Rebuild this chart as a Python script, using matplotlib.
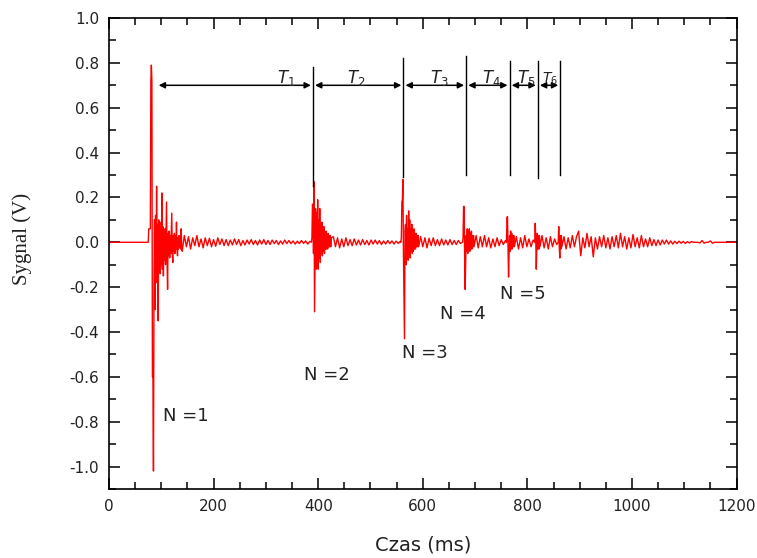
import numpy as np
import matplotlib
matplotlib.use("Agg")
import matplotlib.pyplot as plt
from matplotlib.ticker import MultipleLocator

burst_dt = 1.0
tail_dt = 4.0
burst_starts = [75, 387, 558, 676, 760, 814, 859]

burst_1 = [0.00, 0.06, 0.06, 0.06, 0.06, 0.72, 0.79, 0.72, -0.60, -0.60,
           -1.02, -0.20, 0.10, -0.30, 0.12, -0.18, 0.25, -0.15, 0.08, -0.35,
           0.10, -0.12, 0.09, -0.14, 0.06, -0.10, 0.22, -0.12, 0.07, -0.15,
           0.05, -0.08, 0.06, -0.10, 0.04, 0.18, -0.08, -0.21, 0.04, -0.06,
           0.05, -0.07, 0.03, -0.05, 0.04, 0.13, -0.05, -0.09, 0.03, -0.04,
           0.04, -0.05, 0.03, -0.03, 0.09, -0.03, -0.06, 0.02, -0.03, 0.03,
           -0.02, 0.02, -0.03, 0.06, -0.02, -0.04]
burst_2 = [0.00, 0.02, 0.17, 0.17, -0.05, 0.27, -0.31, -0.10, 0.15, -0.12,
           0.13, -0.08, 0.19, -0.12, 0.10, -0.07, 0.15, -0.09, 0.08, -0.05,
           0.09, -0.06, 0.06, -0.04, 0.07, -0.05, 0.04, -0.03, 0.05, -0.03,
           0.03, -0.03, 0.04, -0.02, 0.03, -0.02, 0.03, -0.02, 0.02]
burst_3 = [0.00, 0.02, 0.18, 0.19, 0.28, -0.05, -0.25, -0.43, 0.05, 0.08,
           -0.10, 0.12, -0.06, 0.06, -0.08, 0.14, -0.05, 0.10, -0.07, 0.06,
           -0.04, 0.08, -0.05, 0.05, -0.04, 0.06, -0.03, 0.04, -0.03, 0.04,
           -0.02, 0.03, -0.02, 0.03, -0.02]
burst_4 = [0.00, 0.02, 0.16, 0.16, -0.05, -0.21, -0.10, 0.03, -0.04, 0.06,
           -0.05, 0.05, -0.03, 0.06, -0.04, 0.04, -0.03, 0.05, -0.03, 0.03,
           -0.02, 0.03, -0.02]
burst_5 = [0.00, 0.11, 0.115, -0.03, -0.155, -0.05, 0.03, -0.04, 0.05, -0.03,
           0.04, -0.03, 0.03, -0.02, 0.03, -0.02]
burst_6 = [0.00, 0.085, 0.02, -0.12, -0.03, 0.04, -0.03, 0.03, -0.03, 0.03, -0.02]
burst_7 = [0.00, 0.07, -0.02, -0.07, 0.03, -0.03, 0.03, -0.02]

tail_1 = [0.03, -0.02, 0.025, -0.03, 0.02, -0.015, 0.03, -0.02, 0.015, -0.025,
          0.02, -0.015, 0.018, -0.02, 0.012, -0.018, 0.02, -0.01, 0.015, -0.015,
          0.012, -0.015, 0.01, -0.012, 0.015, -0.01, 0.012, -0.015, 0.008, -0.012,
          0.01, -0.008, 0.012, -0.01, 0.008, -0.012, 0.01, -0.008, 0.012, -0.01,
          0.008, -0.01, 0.01, -0.006, 0.008, -0.01, 0.006, -0.008, 0.01, -0.006,
          0.008, -0.006, 0.006, -0.008, 0.005, -0.006, 0.008, -0.005, 0.006, -0.008,
          0.004]
tail_2 = [0.025, -0.02, 0.02, -0.025, 0.015, -0.02, 0.02, -0.015, 0.012, -0.015,
          0.015, -0.012, 0.01, -0.012, 0.012, -0.01, 0.008, -0.012, 0.01, -0.008,
          0.01, -0.008, 0.008, -0.01, 0.006, -0.008, 0.008, -0.006, 0.006, -0.008,
          0.005, -0.005, 0.004]
tail_3 = [0.025, -0.02, 0.02, -0.025, 0.018, -0.015, 0.02, -0.015, 0.012, -0.015,
          0.015, -0.012, 0.01, -0.012, 0.012, -0.01, 0.008, -0.01, 0.008, -0.005]
tail_4 = [0.03, -0.025, 0.025, -0.02, 0.03, -0.02, 0.02, -0.025, 0.015, -0.02,
          0.02, -0.015, 0.012, -0.01, 0.008]
tail_5 = [0.025, -0.03, 0.02, -0.025, 0.03, -0.02, 0.015, -0.02, 0.01]
tail_6 = [0.03, -0.025, 0.02, -0.03, 0.025, -0.02, 0.015, -0.01]
tail_7 = [0.025, -0.03, 0.02, -0.025, 0.03, -0.02, 0.025, 0.05, -0.06, 0.02,
          -0.025, 0.04, -0.02, 0.025, -0.065, 0.02, -0.03, 0.025, -0.02, 0.03,
          -0.025, 0.02, -0.03, 0.025, -0.02, 0.03, -0.025, 0.04, -0.02, 0.025,
          -0.03, 0.02, -0.025, 0.035, -0.02, 0.02, -0.025, 0.03, -0.02, 0.015,
          -0.02, 0.02, -0.015, 0.012, -0.015, 0.01, -0.012, 0.01, -0.008, 0.01,
          -0.008, 0.006, -0.008, 0.005, -0.006, 0.005, -0.004, 0.004, -0.005, 0.003,
          -0.003, 0.003, 0.0, 0.0, 0.0, -0.003, 0.008, -0.004, 0.0, 0.0,
          0.006, -0.004, 0.0, 0.0]

bursts = [burst_1, burst_2, burst_3, burst_4, burst_5, burst_6, burst_7]
tails = [tail_1, tail_2, tail_3, tail_4, tail_5, tail_6, tail_7]

# reflection markers and periods
marker_times = [390, 563, 683, 766, 820, 863]
marker_top = [0.78, 0.82, 0.83, 0.81, 0.81, 0.81]
marker_bottom = [0.25, 0.29, 0.30, 0.30, 0.285, 0.30]
period_starts = [91, 390, 563, 683, 766, 820]
period_ends = [390, 563, 683, 766, 820, 863]
arrow_y = 0.70
period_labels = ["$T_1$", "$T_2$", "$T_3$", "$T_4$", "$T_5$", "$T_6$"]
period_label_x = [321, 455, 614, 713, 780, 828]

n_labels = ["N =1", "N =2", "N =3", "N =4", "N =5"]
n_label_x = [103, 372, 561, 633, 748]
n_label_y = [-0.776, -0.593, -0.495, -0.32, -0.23]

# assemble the trace
t_parts = [np.array([0.0])]
v_parts = [np.array([0.0])]
for start, burst, tail in zip(burst_starts, bursts, tails):
    tb = start + burst_dt * np.arange(len(burst))
    tt = tb[-1] + tail_dt * (1 + np.arange(len(tail)))
    t_parts += [tb, tt]
    v_parts += [np.array(burst), np.array(tail)]
t_parts.append(np.array([1200.0]))
v_parts.append(np.array([0.0]))
t = np.concatenate(t_parts)
v = np.concatenate(v_parts)

fig = plt.figure(figsize=(7.57, 5.58), dpi=100)
ax = fig.add_axes([0.144, 0.1237, 0.829, 0.844])

ax.plot(t, v, color="#ff0000", lw=1.0)

for x, y0, y1 in zip(marker_times, marker_bottom, marker_top):
    ax.plot([x, x], [y0, y1], color="black", lw=1.0)

for a, b in zip(period_starts, period_ends):
    ax.annotate("", xy=(b, arrow_y), xytext=(a, arrow_y),
                arrowprops=dict(arrowstyle="<|-|>", color="black", lw=1.1,
                                mutation_scale=9, shrinkA=1.5, shrinkB=1.5))

for i, (lab, x) in enumerate(zip(period_labels, period_label_x)):
    ax.text(x, 0.71, lab, fontsize=12 if i < 5 else 10, ha="left", va="baseline",
            color="#222222")

for lab, x, y in zip(n_labels, n_label_x, n_label_y):
    ax.text(x, y, lab, fontsize=13, ha="left", va="center", color="#222222")

ax.set_xlim(0, 1200)
ax.set_ylim(-1.1, 1.0)
ax.xaxis.set_major_locator(MultipleLocator(200))
ax.xaxis.set_minor_locator(MultipleLocator(50))
ax.yaxis.set_major_locator(MultipleLocator(0.2))
ax.yaxis.set_minor_locator(MultipleLocator(0.1))
ax.yaxis.set_major_formatter(plt.FuncFormatter(lambda y, p: f"{y:.1f}"))
ax.tick_params(which="both", direction="in", top=True, right=True,
               labelsize=11, labelcolor="#222222", width=1.1)
ax.tick_params(which="major", length=8, pad=7)
ax.tick_params(which="minor", length=5)
for s in ax.spines.values():
    s.set_linewidth(1.2)

ax.set_xlabel("Czas (ms)", fontsize=14, labelpad=16, color="#222222")
fig.text(22 / 757, 1 - 239 / 558, "Sygnal (V)", rotation=90, ha="center",
         va="center", fontsize=15, family="Liberation Serif", color="#222222")

fig.savefig("out.png", dpi=100)
